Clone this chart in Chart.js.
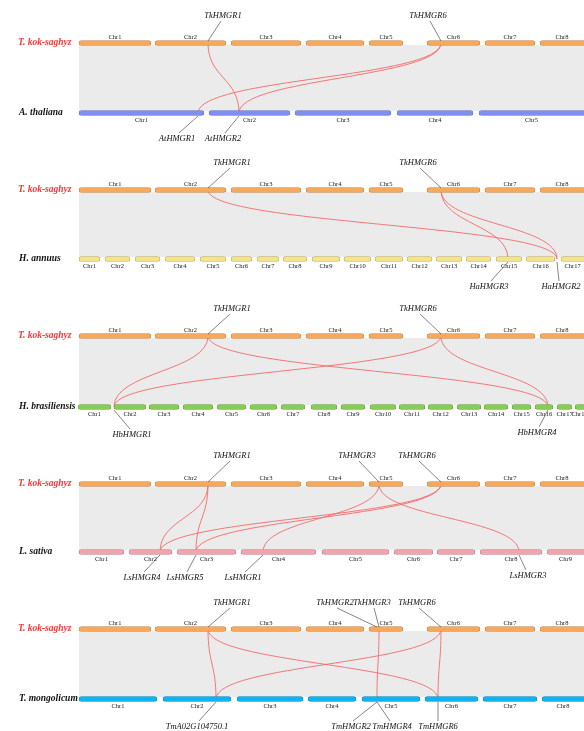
<!DOCTYPE html>
<html>
<head>
<meta charset="utf-8">
<script src="https://cdn.jsdelivr.net/npm/chart.js@4.4.1/dist/chart.umd.min.js"></script>
<style>
  html, body { margin: 0; padding: 0; background: #fff; }
  #wrap { width: 584px; height: 731px; }
</style>
</head>
<body>
<div id="wrap"><canvas id="c" width="584" height="731"></canvas></div>
<script>
// chromosome extents (start, end) along the shared x axis
const tkStart = [79, 155, 231, 306, 369, 427, 485, 540];
const tkEnd   = [151, 226, 301, 364, 403, 480, 535, 620];

const atStart = [79, 209, 295, 397, 479];
const atEnd   = [204, 290, 391, 473, 620];

const haStart = [79, 105, 135, 165, 200, 231, 257, 283, 312, 344, 375, 407, 436, 466, 496, 526, 561];
const haEnd   = [100, 130, 160, 195, 226, 252, 279, 307, 340, 371, 403, 432, 462, 491, 522, 555, 620];

const hbStart = [78, 114, 149, 183, 217, 250, 281, 311, 341, 370, 399, 428, 457, 484, 512, 535, 557, 575];
const hbEnd   = [111, 146, 179, 213, 246, 277, 305, 337, 365, 396, 425, 453, 481, 508, 531, 553, 572, 620];

const lsStart = [79, 129, 177, 241, 322, 394, 437, 480, 547];
const lsEnd   = [124, 172, 236, 316, 389, 433, 475, 542, 620];

const tmStart = [79, 163, 237, 308, 362, 425, 483, 542];
const tmEnd   = [157, 231, 303, 356, 420, 478, 537, 620];

// row heights of each panel
const topRowY = [43, 190, 336, 484, 629];
const botRowY = [113, 259, 407, 552, 699];

const species = ['A. thaliana', 'H. annuus', 'H. brasiliensis', 'L. sativa', 'T. mongolicum'];

// syntenic HMGR pairs: [T. kok-saghyz position, partner position]
const links = [
  [[208, 239], [441, 198], [441, 239]],
  [[208, 557], [441, 508], [441, 557]],
  [[208, 114], [208, 548], [441, 114], [441, 548]],
  [[208, 160], [208, 196], [379, 519], [379, 263], [441, 160], [441, 196]],
  [[208, 216], [208, 438], [441, 216], [379, 377], [441, 438]]
];

// gene labels: [name, gene x, gene y, text x, text y]
const geneLabels = [
  ['TkHMGR1', 208, 41, 223, 16], ['TkHMGR6', 441, 41, 428, 16],
  ['AtHMGR1', 198, 116, 177, 139], ['AtHMGR2', 239, 116, 223, 139],
  ['TkHMGR1', 208, 188, 232, 163], ['TkHMGR6', 441, 188, 418, 163],
  ['HaHMGR3', 508, 262, 489, 287], ['HaHMGR2', 557, 262, 561, 287],
  ['TkHMGR1', 208, 334, 232, 309], ['TkHMGR6', 441, 334, 418, 309],
  ['HbHMGR1', 114, 410, 132, 435], ['HbHMGR4', 548, 410, 537, 433],
  ['TkHMGR1', 208, 482, 232, 456], ['TkHMGR3', 379, 482, 357, 456], ['TkHMGR6', 441, 482, 417, 456],
  ['LsHMGR4', 160, 555, 142, 578], ['LsHMGR5', 196, 555, 185, 578],
  ['LsHMGR1', 263, 555, 243, 578], ['LsHMGR3', 519, 555, 528, 576],
  ['TkHMGR1', 208, 627, 232, 603], ['TkHMGR2', 377, 627, 335, 603],
  ['TkHMGR3', 379, 627, 372, 603], ['TkHMGR6', 441, 627, 417, 603],
  ['TmA02G104750.1', 216, 702, 197, 727], ['TmHMGR2', 377, 702, 351, 727],
  ['TmHMGR4', 377, 702, 392, 727], ['TmHMGR6', 438, 702, 438, 727]
];

const bottomRows = [
  {start: atStart, end: atEnd, fill: '#7f8ff0', edge: '#6a78c8'},
  {start: haStart, end: haEnd, fill: '#f3e38a', edge: '#b8a866'},
  {start: hbStart, end: hbEnd, fill: '#86cc55', edge: '#6aa040'},
  {start: lsStart, end: lsEnd, fill: '#f2a4ae', edge: '#b88088'},
  {start: tmStart, end: tmEnd, fill: '#12b2f0', edge: '#1090c0'}
];
const tkFill = '#f7a85a', tkEdge = '#b88a5e';
const linkColor = '#f46a6a';

function rowDataset(starts, ends, y, fill, edge) {
  return {
    type: 'bar',
    indexAxis: 'y',
    grouped: false,
    data: starts.map((s, i) => ({x: [s, ends[i]], y: y})),
    backgroundColor: fill,
    borderColor: edge,
    borderWidth: 0.7,
    borderSkipped: false,
    borderRadius: 3,
    barThickness: 5
  };
}

const datasets = [];
topRowY.forEach((y, p) => {
  datasets.push(rowDataset(tkStart, tkEnd, y, tkFill, tkEdge));
  const r = bottomRows[p];
  datasets.push(rowDataset(r.start, r.end, botRowY[p], r.fill, r.edge));
});

// gray synteny band + red HMGR links, drawn before the chromosomes
const linkPlugin = {
  id: 'links',
  beforeDatasetsDraw(chart) {
    const {ctx, scales: {x, y}} = chart;
    ctx.save();
    topRowY.forEach((ty, p) => {
      const y1 = y.getPixelForValue(ty + 2), y2 = y.getPixelForValue(botRowY[p] - 2);
      ctx.fillStyle = '#ebebeb';
      ctx.fillRect(x.getPixelForValue(tkStart[0]), y1, x.getPixelForValue(584) - x.getPixelForValue(tkStart[0]), y2 - y1);
      ctx.strokeStyle = linkColor;
      ctx.lineWidth = 0.9;
      links[p].forEach(([a, b]) => {
        const xa = x.getPixelForValue(a), xb = x.getPixelForValue(b);
        const ya = y.getPixelForValue(ty), yb = y.getPixelForValue(botRowY[p]);
        const ym = (ya + yb) / 2;
        ctx.beginPath();
        ctx.moveTo(xa, ya);
        ctx.bezierCurveTo(xa, ym, xb, ym, xb, yb);
        ctx.stroke();
      });
    });
    ctx.restore();
  },
  afterDatasetsDraw(chart) {
    const {ctx, scales: {x, y}} = chart;
    ctx.save();
    ctx.textAlign = 'center';
    ctx.textBaseline = 'middle';
    ctx.fillStyle = '#222';
    ctx.font = '6.5px "Liberation Serif", serif';
    const chrLabels = (starts, ends, ly) => {
      starts.forEach((s, i) => {
        const mid = (s + Math.min(ends[i], 584)) / 2;
        ctx.fillText('Chr' + (i + 1), x.getPixelForValue(mid), y.getPixelForValue(ly));
      });
    };
    topRowY.forEach((ty, p) => {
      chrLabels(tkStart, tkEnd, ty - 6);
      chrLabels(bottomRows[p].start, bottomRows[p].end, botRowY[p] + 7);
    });
    // species names
    ctx.textAlign = 'left';
    ctx.font = 'italic bold 9.5px "Liberation Serif", serif';
    topRowY.forEach((ty, p) => {
      ctx.fillStyle = '#ff3333';
      ctx.fillText('T. kok-saghyz', 18, y.getPixelForValue(ty));
      ctx.fillStyle = '#111';
      ctx.fillText(species[p], 19, y.getPixelForValue(botRowY[p]));
    });
    // gene labels with leader lines
    ctx.textAlign = 'center';
    ctx.font = 'italic 8.5px "Liberation Serif", serif';
    ctx.strokeStyle = '#333';
    ctx.lineWidth = 0.6;
    geneLabels.forEach(([name, gx, gy, tx, tyy]) => {
      const up = tyy < gy;
      const lx = x.getPixelForValue(tx), ly = y.getPixelForValue(tyy + (up ? 5 : -6));
      ctx.beginPath();
      ctx.moveTo(x.getPixelForValue(gx), y.getPixelForValue(gy));
      ctx.lineTo(lx + (gx < tx ? -2 : gx > tx ? 2 : 0), ly);
      ctx.stroke();
      ctx.fillStyle = '#111';
      ctx.fillText(name, lx, y.getPixelForValue(tyy));
    });
    ctx.restore();
  }
};

new Chart(document.getElementById('c').getContext('2d'), {
  type: 'bar',
  data: {datasets},
  options: {
    responsive: false,
    animation: false,
    layout: {padding: 0},
    plugins: {legend: {display: false}, tooltip: {enabled: false}},
    scales: {
      x: {type: 'linear', min: 0, max: 584, offset: false, display: false},
      y: {type: 'linear', min: 0, max: 731, offset: false, reverse: true, display: false}
    }
  },
  plugins: [linkPlugin]
});
</script>
</body>
</html>
